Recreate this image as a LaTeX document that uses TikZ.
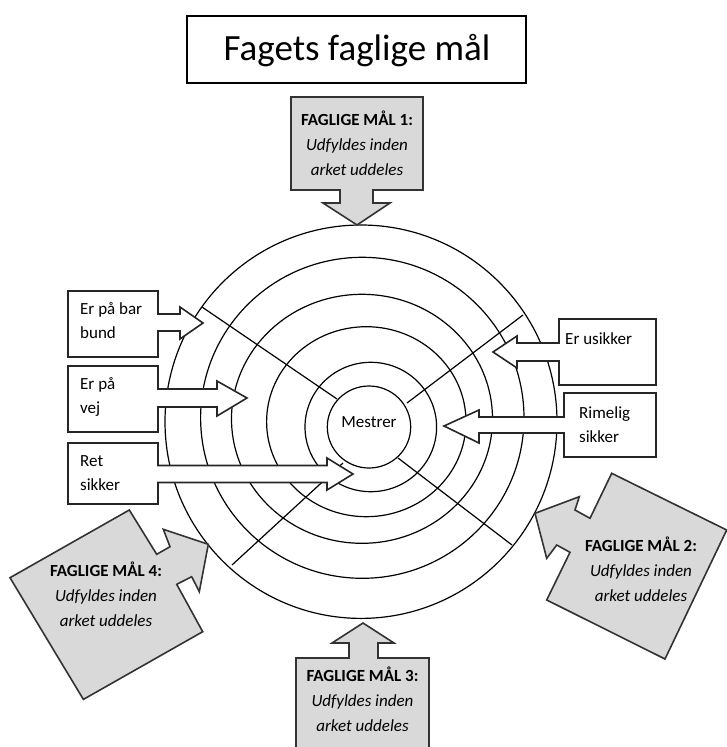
\documentclass[tikz,border=0pt]{standalone}
\usepackage{fontspec}
\setmainfont{Carlito}
\begin{document}
\begin{tikzpicture}[x=1pt,y=-1pt,
  ring/.style={draw=black, line width=1.2pt},
  spoke/.style={draw=black, line width=1.2pt},
  wcall/.style={draw=black!85, line width=1.6pt, fill=white, line join=miter},
  gcall/.style={draw=black!80, line width=1.6pt, fill=black!15, line join=miter},
  wtxt/.style={font=\fontsize{17}{24}\selectfont, inner sep=0pt, align=left, anchor=base west},
  gtxt/.style={font=\fontsize{17}{25}\selectfont, inner sep=0pt, align=center, anchor=base}]
\useasboundingbox (0,0) rectangle (727,747);
\clip (0,0) rectangle (727,747);

% title
\draw[black, line width=1.5pt] (187,16) rectangle (526,83);
\node[font=\fontsize{37}{40}\selectfont, inner sep=0pt, anchor=base] (title) at (357,60) {Fagets faglige mål};

% rings
\draw[ring] (361,421.7) ellipse [x radius=196, y radius=196.7];
\draw[ring] (362.3,417.8) ellipse [x radius=161.7, y radius=160.5];
\draw[ring] (362,418.8) ellipse [x radius=130.5, y radius=124.5];
\draw[ring] (366.3,421.7) ellipse [x radius=99.7, y radius=95];
\draw[ring] (370.8,427) ellipse [x radius=65.8, y radius=64.7];
\draw[ring] (369,427) ellipse [x radius=41.7, y radius=41];

% spokes
\draw[spoke] (202,307) -- (337,399);
\draw[spoke] (523,315) -- (407,403);
\draw[spoke] (398,458) -- (512,545);
\draw[spoke] (343,463) -- (232,565);

\node[font=\fontsize{17}{20}\selectfont, inner sep=0pt, anchor=base] (mestrer) at (369,427) {Mestrer};

% white callouts, left (node anchor = baseline of last line)
\draw[wcall] (68,291) -- (158,291) -- (158,314) -- (180,314) -- (180,307) -- (203,323) -- (180,339) -- (180,331) -- (158,331) -- (158,357) -- (68,357) -- cycle;
\node[wtxt] (bar) at (80,338.5) {Er på bar\\bund};

\draw[wcall] (68,366) -- (158,366) -- (158,389) -- (217,389) -- (217,381) -- (247,398) -- (217,416) -- (217,407) -- (158,407) -- (158,432) -- (68,432) -- cycle;
\node[wtxt] (vej) at (80,413.5) {Er på\\vej};

\draw[wcall] (68,443) -- (158,443) -- (158,465.5) -- (327,465.5) -- (327,458) -- (353,474) -- (327,490) -- (327,482.5) -- (158,482.5) -- (158,504) -- (68,504) -- cycle;
\node[wtxt] (ret) at (80,490) {Ret\\sikker};

% white callouts, right
\draw[wcall] (559,319) -- (656,319) -- (656,385) -- (559,385) -- (559,361) -- (517,361) -- (517,368) -- (493,352) -- (517,336) -- (517,343) -- (559,343) -- cycle;
\node[wtxt] (usikker) at (565,344) {Er usikker};

\draw[wcall] (564,393) -- (656,393) -- (656,457) -- (564,457) -- (564,433) -- (479,433) -- (479,443) -- (444,426) -- (479,410) -- (479,417) -- (564,417) -- cycle;
\node[wtxt] (rimelig) at (579,442) {Rimelig\\sikker};

% grey callouts
\draw[gcall] (291,97) -- (423,97) -- (423,190) -- (373,190) -- (373,203) -- (390,203) -- (357,225) -- (323,203) -- (340,203) -- (340,190) -- (291,190) -- cycle;
\node[gtxt] (m1) at (357,175) {\textbf{FAGLIGE MÅL 1:}\\\textit{Udfyldes inden}\\\textit{arket uddeles}};

\draw[gcall] (296,658) -- (349,658) -- (349,643) -- (332,643) -- (363,623) -- (394,643) -- (378,643) -- (378,658) -- (429,658) -- (429,760) -- (296,760) -- cycle;
\node[gtxt] (m3) at (362.5,731) {\textbf{FAGLIGE MÅL 3:}\\\textit{Udfyldes inden}\\\textit{arket uddeles}};

\draw[gcall] (10,577.7) -- (129.3,510) -- (156.7,554.3) -- (170,546.7) -- (163.3,529.3) -- (208.3,544.3) -- (199.3,591.7) -- (191.7,576.7) -- (176.7,584.3) -- (202.7,631.7) -- (83.4,699.4) -- cycle;
\node[gtxt] (m4) at (106,626.5) {\textbf{FAGLIGE MÅL 4:}\\\textit{Udfyldes inden}\\\textit{arket uddeles}};

\draw[gcall] (611.7,473.3) -- (726.7,530) -- (665,659) -- (546.7,600) -- (570,552.3) -- (556.7,545) -- (546.7,558.3) -- (535,513.3) -- (579.3,496.7) -- (575,510) -- (590,518.3) -- cycle;
\node[gtxt] (m2) at (641,601.5) {\textbf{FAGLIGE MÅL 2:}\\\textit{Udfyldes inden}\\\textit{arket uddeles}};
\end{tikzpicture}
\end{document}
